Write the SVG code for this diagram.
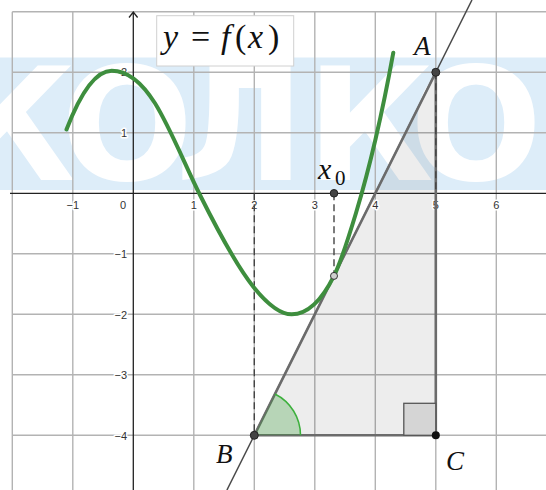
<svg xmlns="http://www.w3.org/2000/svg" width="546" height="490" viewBox="0 0 546 490">
<defs>
<style>
.grid{stroke:#b3b3b3;stroke-width:1.4;fill:none}
.axis{stroke:#222;stroke-width:1.3;fill:none}
.tick{font-family:"Liberation Sans",Arial,sans-serif;font-size:11px;fill:#333;stroke:#fff;stroke-width:3;paint-order:stroke;stroke-linejoin:round}
.tx{text-anchor:middle}
.ty{text-anchor:end}
.lbl{font-family:"Liberation Serif","Times New Roman",serif;font-style:italic;fill:#111}
.rm{font-style:normal}
.dash{stroke:#444;stroke-width:1.4;stroke-dasharray:7 4;fill:none}
.pt{fill:#444;stroke:#222;stroke-width:1}
.wm{font-family:"DejaVu Sans",sans-serif;font-weight:bold;font-size:156px;fill:#fff;text-anchor:middle}
</style>
</defs>
<rect width="546" height="490" fill="#fff"/>
<rect x="0" y="57.5" width="546" height="132.5" fill="#ddedf9"/>
<text class="wm" x="12 127 240 370 476" y="180">КОЛКО</text>
<path class="grid" d="M12.3 11.8V490M72.8 11.8V490M193.8 11.8V490M254.3 11.8V490M314.8 11.8V490M375.3 11.8V490M435.8 11.8V490M496.3 11.8V490M12.3 11.8H546M12.3 72.3H546M12.3 132.8H546M12.3 253.8H546M12.3 314.3H546M12.3 374.8H546M12.3 435.3H546"/>
<polygon points="254.3,435.3 435.8,72.3 435.8,435.3" fill="#000" fill-opacity="0.07"/>
<path class="axis" d="M10 193.3H546M133.3 12V490M129 17.5L133.3 12L137.6 17.5"/>
<g class="tick">
<text class="tx" x="72.8" y="209">−1</text>
<text class="tx" x="123" y="209">0</text>
<text class="tx" x="193.8" y="209">1</text>
<text class="tx" x="254.3" y="209">2</text>
<text class="tx" x="314.8" y="209">3</text>
<text class="tx" x="375.3" y="209">4</text>
<text class="tx" x="435.8" y="209">5</text>
<text class="tx" x="496.3" y="209">6</text>
<text class="ty" x="127" y="76">2</text>
<text class="ty" x="127" y="137">1</text>
<text class="ty" x="127" y="258">−1</text>
<text class="ty" x="127" y="318.5">−2</text>
<text class="ty" x="127" y="379">−3</text>
<text class="ty" x="127" y="439.5">−4</text>
</g>
<g id="connectors">
<path d="M226.95 490L471.95 0" stroke="#4a4a4a" stroke-width="1.5" fill="none"/>
<polygon points="254.3,435.3 435.8,72.3 435.8,435.3" fill="none" stroke="#6b6b6b" stroke-width="2.6" stroke-linejoin="round"/>
<path class="dash" d="M254.3 193.3V435.3M334 193.3V275.9M435.8 72.3V193.3"/>
</g>
<g id="angleB">
<path d="M254.3 435.3L300.5 435.3A46.2 46.2 0 0 0 274.96 393.98Z" fill="#3ca03c" fill-opacity="0.3"/>
<path d="M300.5 435.3A46.2 46.2 0 0 0 274.96 393.98" fill="none" stroke="#3cb03c" stroke-width="1.5"/>
</g>
<g id="rightC">
<rect x="403.8" y="403.3" width="32" height="32" fill="#d5d5d5" stroke="#555" stroke-width="1.3"/>
</g>
<g id="curve">
<path d="M66.5 129.5C81.57 90.33 96.63 70.7 111.7 70.7C126.13 70.7 140.57 80.21 155 103.3C170 127.3 185 165 200 195C217.77 230.53 235.53 264.5 253.3 286.7C266.1 302.7 278.9 314.3 291.7 314.3C305.8 314.3 319.9 304.1 334 275.9C341.33 261.23 348.67 237.2 356 213C368.43 171.97 380.87 121.1 393.3 52.7" fill="none" stroke="#3e8e3e" stroke-width="4" stroke-linecap="round"/>
</g>
<g id="pointA"><circle class="pt" cx="435.8" cy="72.3" r="4"/><text class="lbl" x="414" y="55" font-size="27">A</text></g>
<g id="pointB"><circle class="pt" cx="254.3" cy="435.3" r="4"/><text class="lbl" x="216" y="463" font-size="27">B</text></g>
<g id="pointC"><circle cx="435.8" cy="435.3" r="4" fill="#111"/><text class="lbl" x="446" y="470" font-size="27">C</text></g>
<g id="pointX0"><circle class="pt" cx="334" cy="193.3" r="3.8"/><text class="lbl" x="318" y="178.5" font-size="30">x</text><text class="lbl rm" x="335" y="185" font-size="21">0</text></g>
<g id="pointT"><circle cx="334" cy="275.9" r="3.5" fill="#cfcfcf" stroke="#333" stroke-width="1"/></g>
<g id="title">
<rect x="156.7" y="15.7" width="137" height="50.3" fill="#fff" stroke="#d0d0d0" stroke-width="1"/>
<text class="lbl" y="48" font-size="34"><tspan x="163">y</tspan><tspan class="rm" x="191">=</tspan><tspan x="221">f</tspan><tspan class="rm" x="235">(</tspan><tspan x="248">x</tspan><tspan class="rm" x="268">)</tspan></text>
</g>
</svg>
